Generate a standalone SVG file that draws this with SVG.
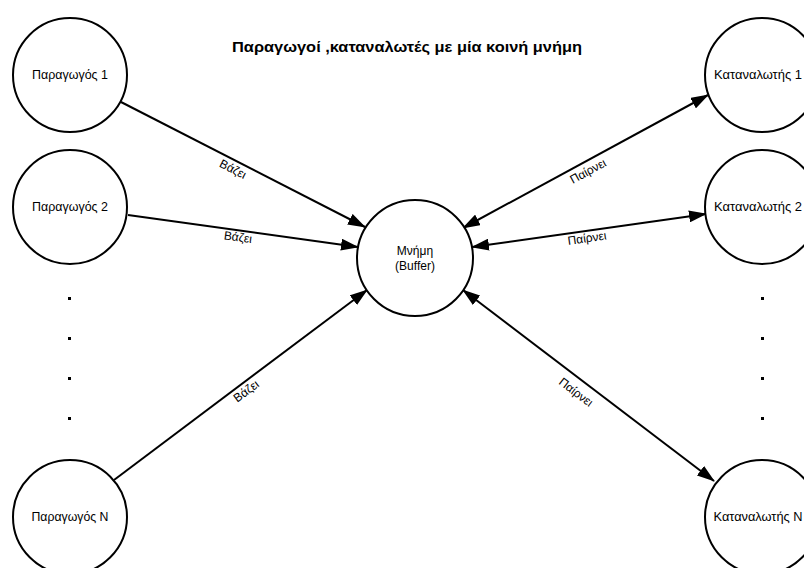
<svg xmlns="http://www.w3.org/2000/svg" width="804" height="568" viewBox="0 0 804 568">
  <style>
    .node circle { fill: #ffffff; stroke: #000000; stroke-width: 2; }
    .node text { font-family: "Liberation Sans", Arial, sans-serif; font-size: 12px; fill: #000000; text-anchor: middle; }
    .edge { stroke: #000000; stroke-width: 2; fill: none; }
    .lbl { font-family: "Liberation Sans", Arial, sans-serif; font-size: 12px; fill: #000000; text-anchor: middle; }
    .title { font-family: "Liberation Sans", Arial, sans-serif; font-size: 14px; font-weight: bold; fill: #000000; }
    .dot { fill: #000000; }
  </style>
  <defs>
    <marker id="arrow" viewBox="0 0 18 12" refX="17" refY="6" markerWidth="18" markerHeight="12" markerUnits="userSpaceOnUse" orient="auto-start-reverse">
      <path d="M0,0 L18,6 L0,12 z" fill="#000000"/>
    </marker>
  </defs>

  <rect x="0" y="0" width="804" height="568" fill="#ffffff"/>

  <text class="title" x="232" y="52" textLength="350" lengthAdjust="spacingAndGlyphs">Παραγωγοί ,καταναλωτές με μία κοινή μνήμη</text>

  <!-- connectors -->
  <g id="connectors">
    <line class="edge" x1="121" y1="102" x2="365" y2="227" marker-end="url(#arrow)"/>
    <line class="edge" x1="128" y1="215" x2="358" y2="247" marker-end="url(#arrow)"/>
    <line class="edge" x1="114" y1="480" x2="367" y2="290" marker-end="url(#arrow)"/>
    <line class="edge" x1="463" y1="228" x2="708" y2="95" marker-start="url(#arrow)" marker-end="url(#arrow)"/>
    <line class="edge" x1="472" y1="247" x2="706" y2="214" marker-start="url(#arrow)" marker-end="url(#arrow)"/>
    <line class="edge" x1="463" y1="290" x2="714" y2="481" marker-start="url(#arrow)" marker-end="url(#arrow)"/>

    <text class="lbl" transform="translate(233,169) rotate(27.1)" dy="0.35em">Βάζει</text>
    <text class="lbl" transform="translate(238,237) rotate(7.9)" dy="0.35em">Βάζει</text>
    <text class="lbl" transform="translate(246,391) rotate(-36.9)" dy="0.35em">Βάζει</text>
    <text class="lbl" transform="translate(588,171) rotate(-28.5)" dy="0.35em">Παίρνει</text>
    <text class="lbl" transform="translate(587,238) rotate(-8)" dy="0.35em">Παίρνει</text>
    <text class="lbl" transform="translate(576,392) rotate(37.3)" dy="0.35em">Παίρνει</text>
  </g>

  <!-- producers -->
  <g id="producer1" class="node">
    <circle cx="70" cy="75" r="57"/>
    <text x="70" y="79" textLength="76" lengthAdjust="spacingAndGlyphs">Παραγωγός 1</text>
  </g>
  <g id="producer2" class="node">
    <circle cx="70" cy="207" r="57"/>
    <text x="70" y="211" textLength="76" lengthAdjust="spacingAndGlyphs">Παραγωγός 2</text>
  </g>
  <g id="producerN" class="node">
    <circle cx="70" cy="517" r="57"/>
    <text x="70" y="521" textLength="77" lengthAdjust="spacingAndGlyphs">Παραγωγός N</text>
  </g>

  <!-- shared buffer -->
  <g id="buffer" class="node">
    <circle cx="415" cy="258" r="58"/>
    <text x="415" y="255">Μνήμη</text>
    <text x="415" y="270">(Buffer)</text>
  </g>

  <!-- consumers -->
  <g id="consumer1" class="node">
    <circle cx="762" cy="75" r="57"/>
    <text x="758" y="79" textLength="88" lengthAdjust="spacingAndGlyphs">Καταναλωτής 1</text>
  </g>
  <g id="consumer2" class="node">
    <circle cx="762" cy="207" r="57"/>
    <text x="758" y="211" textLength="88" lengthAdjust="spacingAndGlyphs">Καταναλωτής 2</text>
  </g>
  <g id="consumerN" class="node">
    <circle cx="762" cy="517" r="57"/>
    <text x="758" y="521" textLength="89" lengthAdjust="spacingAndGlyphs">Καταναλωτής N</text>
  </g>

  <!-- ellipsis dots -->
  <g id="dots">
    <rect class="dot" x="68" y="297" width="3" height="3"/>
    <rect class="dot" x="68" y="337" width="3" height="3"/>
    <rect class="dot" x="68" y="377" width="3" height="3"/>
    <rect class="dot" x="68" y="417" width="3" height="3"/>
    <rect class="dot" x="761" y="297" width="3" height="3"/>
    <rect class="dot" x="761" y="337" width="3" height="3"/>
    <rect class="dot" x="761" y="377" width="3" height="3"/>
    <rect class="dot" x="761" y="417" width="3" height="3"/>
  </g>
</svg>
